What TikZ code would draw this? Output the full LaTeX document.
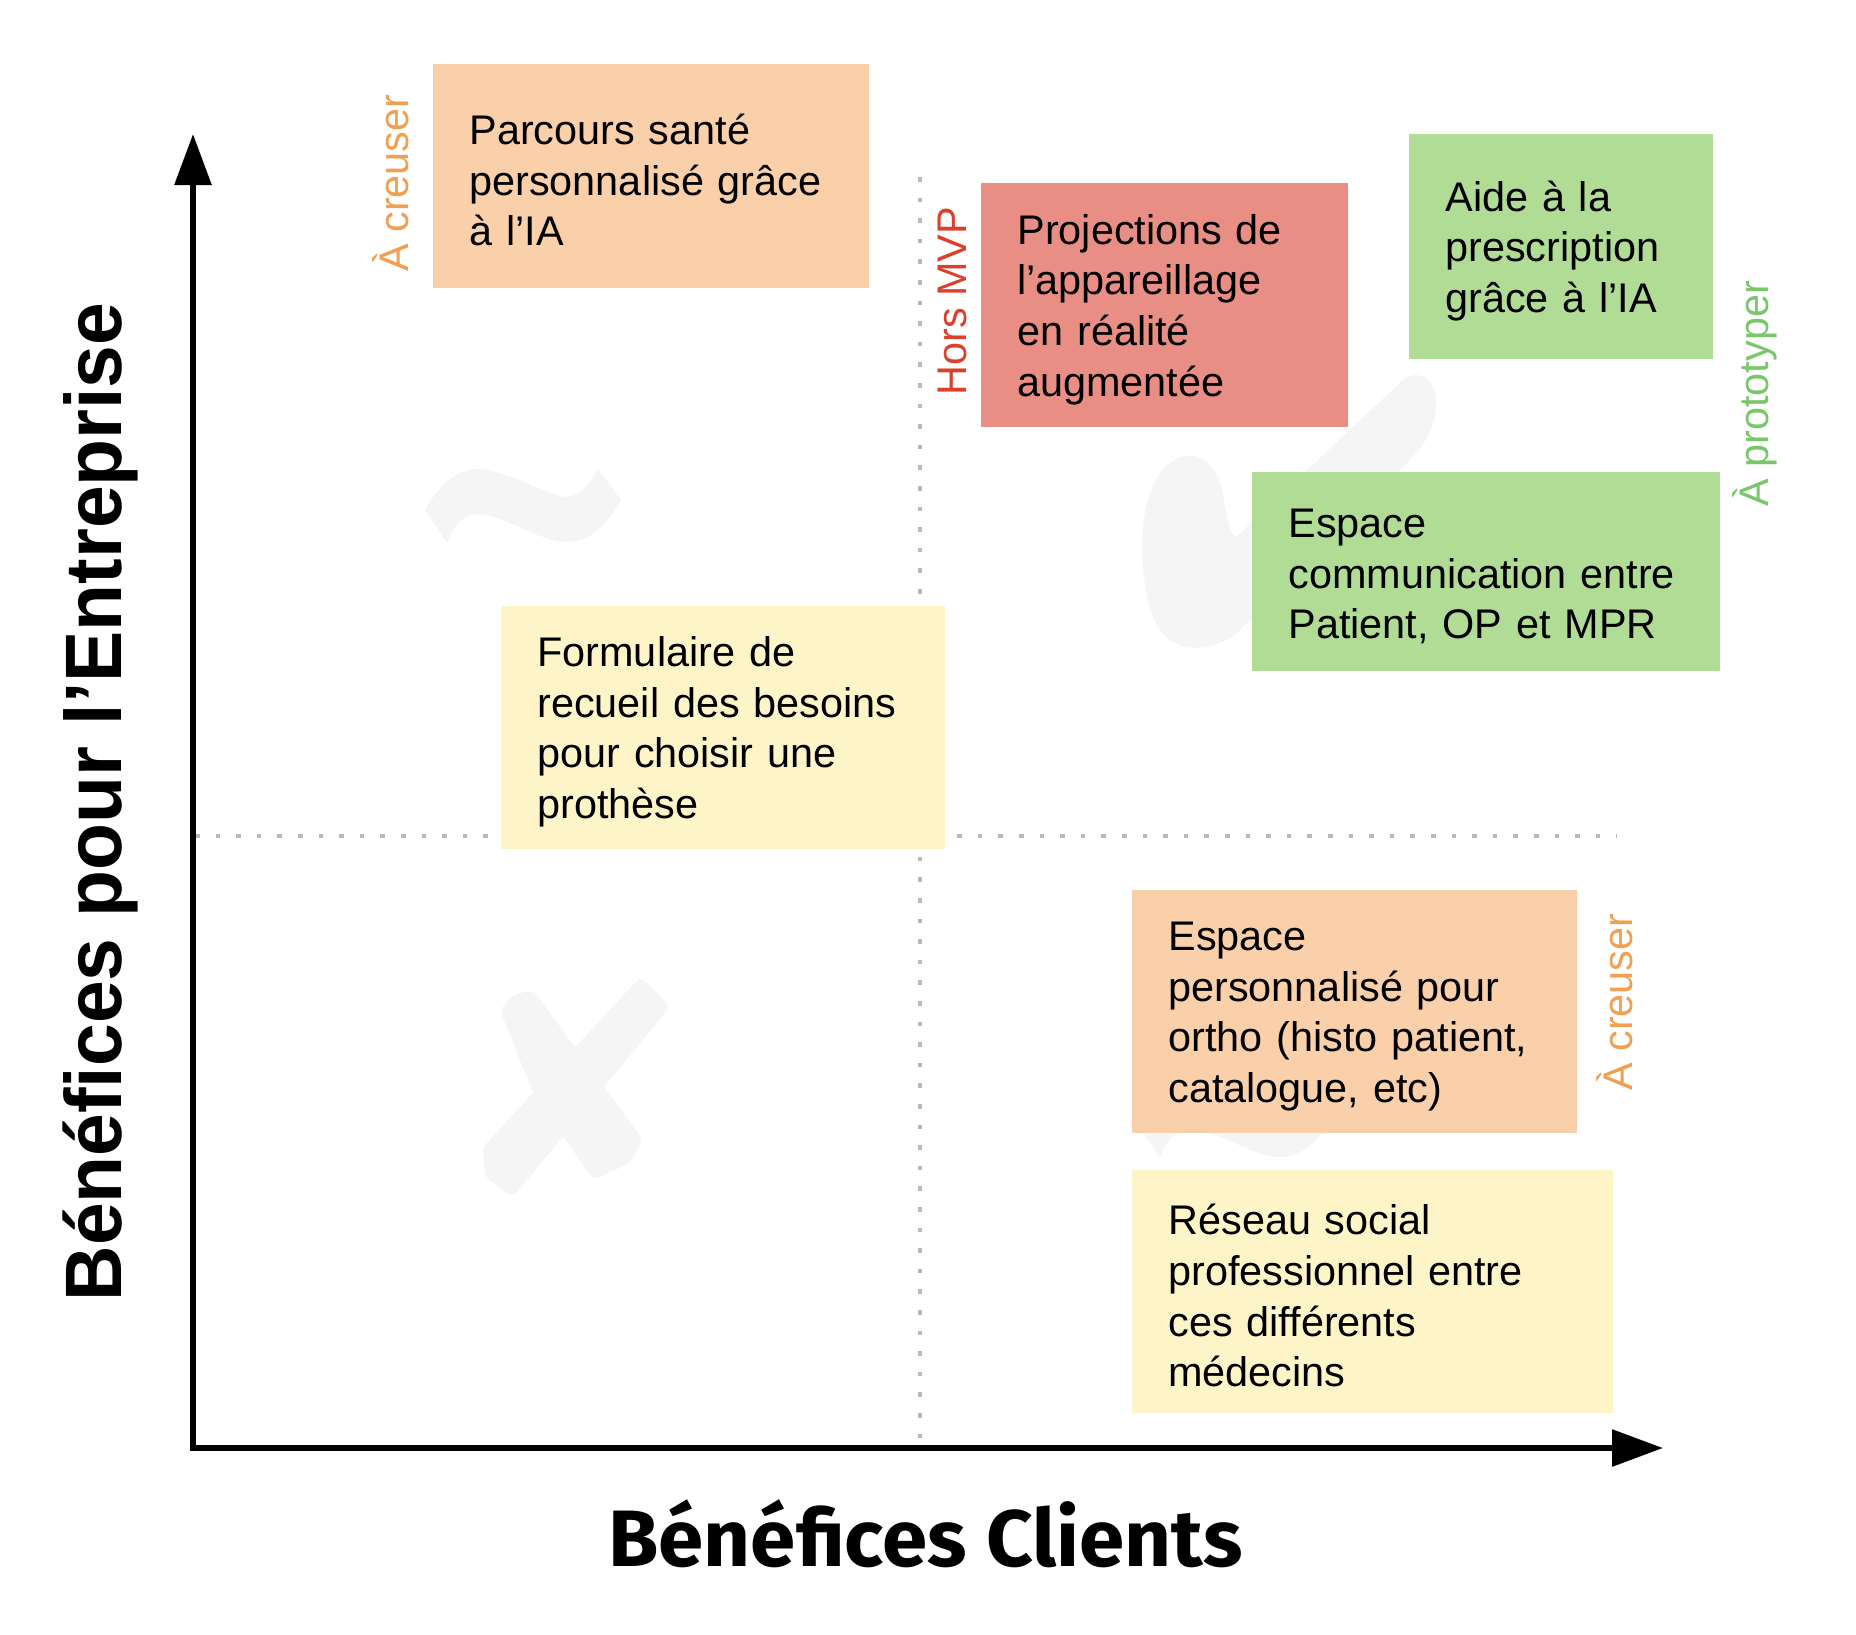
\documentclass[tikz,border=0pt]{standalone}
\usepackage{fontspec}
\usepackage{graphicx}
\setmainfont{Liberation Sans}
\newfontfamily\clientfont{Fira Sans}
\usetikzlibrary{arrows.meta}
\definecolor{cardorange}{RGB}{249,208,169}
\definecolor{cardyellow}{RGB}{253,245,199}
\definecolor{cardred}{RGB}{232,142,133}
\definecolor{cardgreen}{RGB}{176,220,149}
\definecolor{tagorange}{RGB}{240,160,80}
\definecolor{tagred}{RGB}{217,65,47}
\definecolor{taggreen}{RGB}{122,199,107}
\definecolor{dotgray}{RGB}{185,185,185}
\definecolor{markgray}{RGB}{245,245,245}

\begin{document}
\begin{tikzpicture}[x=0.5pt, y=-0.5pt,
  card/.style={anchor=north west, inner xsep=18pt, inner ysep=0pt, align=left,
    font=\fontsize{20.7}{25.3}\selectfont, execute at begin node={\rule{0pt}{19pt}}},
  sidelabel/.style={rotate=90, anchor=base west, inner sep=0pt,
    font=\fontsize{20.7}{24}\selectfont},
  axisline/.style={line width=3pt,
    {Triangle[length=25.5pt,width=18pt]}-{Triangle[length=25.5pt,width=18pt]}},
  midline/.style={draw=dotgray, line width=2.2pt, dash pattern=on 2.3pt off 8pt}]
  \useasboundingbox (0,0) rectangle (1856,1634);

  % faint marks behind the quadrants
  \foreach \dx/\dy in {0/0, 713/615}
    \fill[markgray, shift={(\dx,\dy)}] (425,510) .. controls (440,483) and (458,469) .. (477,469)
      .. controls (500,469) and (535,488) .. (560,496) .. controls (575,500) and (588,488) .. (598,469)
      -- (621,500) .. controls (605,528) and (588,542) .. (567,542)
      .. controls (540,542) and (508,517) .. (480,514) .. controls (465,513) and (453,525) .. (447,543) -- cycle;
  \fill[markgray] (1142,560) .. controls (1141,510) and (1150,470) .. (1180,457)
    .. controls (1205,450) and (1220,470) .. (1224,500) .. controls (1228,520) and (1230,535) .. (1236,537)
    -- (1405,378) .. controls (1425,368) and (1440,385) .. (1435,415)
    .. controls (1432,435) and (1420,450) .. (1403,467) -- (1240,630)
    .. controls (1225,645) and (1200,652) .. (1180,645) .. controls (1155,636) and (1147,610) .. (1142,560) -- cycle;
  \fill[markgray, rounded corners=3pt] (500,1010) -- (513,995) -- (533,990) -- (643,1140) -- (630,1163) -- (593,1180) -- (531,1088) -- cycle;
  \fill[markgray, rounded corners=3pt] (640,977) -- (655,990) -- (670,1007) -- (513,1197) -- (485,1177) -- (483,1147) -- cycle;

  % quadrant separators
  \coordinate (hstart) at (195,836);
  \coordinate (hend) at (1617,836);
  \coordinate (vstart) at (920,177);
  \coordinate (vend) at (920,1448);
  \draw[midline] (hstart) -- (hend);
  \draw[midline] (vstart) -- (vend);

  % axes
  \coordinate (ytip) at (193,134);
  \coordinate (xtip) at (1663,1448);
  \draw[axisline] (ytip) |- (xtip);

  % cards
  \node[card, fill=cardorange, text width=182pt, minimum height=112pt] (parcours) at (433,64)
    {Parcours santé\\personnalisé grâce\\à l’IA};
  \node[card, fill=cardyellow, text width=186pt, minimum height=121.5pt] (formulaire) at (501,606)
    {Formulaire de\\recueil des besoins\\pour choisir une\\prothèse};
  \node[card, fill=cardred, text width=147.5pt, minimum height=122pt] (projections) at (981,183)
    {Projections de\\l’appareillage\\en réalité\\augmentée};
  \node[card, fill=cardgreen, text width=116pt, minimum height=112.5pt] (aide) at (1409,134)
    {Aide à la\\prescription\\grâce à l’IA};
  \node[card, fill=cardgreen, text width=198pt, minimum height=99.5pt] (espacecom) at (1252,472)
    {Espace\\communication entre\\Patient, OP et MPR};
  \node[card, fill=cardorange, text width=186.5pt, minimum height=121.5pt] (espaceortho) at (1132,890)
    {Espace\\personnalisé pour\\ortho (histo patient,\\catalogue, etc)};
  \node[card, fill=cardyellow, text width=204.5pt, minimum height=121.5pt] (reseau) at (1132,1170)
    {Réseau social\\professionnel entre\\ces différents\\médecins};

  % side labels
  \node[sidelabel, text=tagorange] (creuserhaut) at (408,272) {À creuser};
  \node[sidelabel, text=tagred] (horsmvp) at (966,396) {Hors MVP};
  \node[sidelabel, text=taggreen] (prototyper) at (1768,507) {À prototyper};
  \node[sidelabel, text=tagorange] (creuserbas) at (1632,1091) {À creuser};

  % axis titles
  \node[anchor=base, font=\clientfont\bfseries\fontsize{40}{42}\selectfont] (clients) at (925.5,1566)
    {\scalebox{1.02}[1]{Bénéfices Clients}};
  \node[rotate=90, anchor=base, font=\bfseries\fontsize{40}{42}\selectfont] (entreprise) at (121,802)
    {\scalebox{0.96}[1]{Bénéfices pour l’Entreprise}};
\end{tikzpicture}
\end{document}
